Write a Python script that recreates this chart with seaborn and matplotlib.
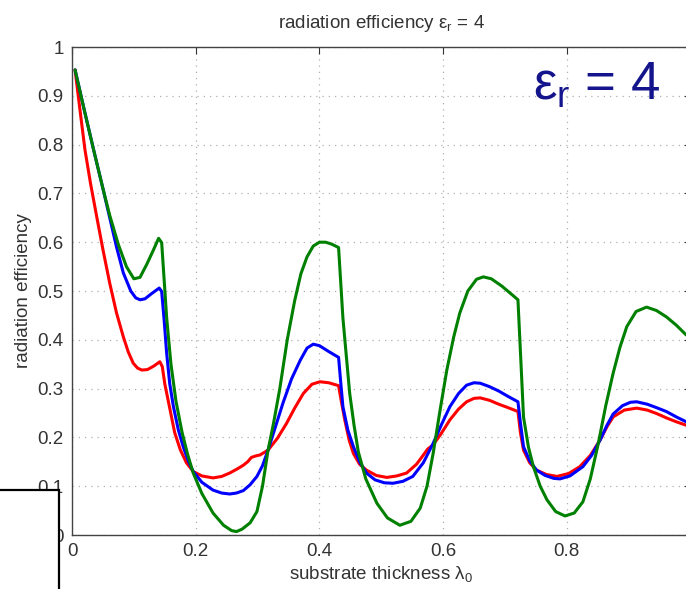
"""
Radiation efficiency vs substrate thickness (eps_r = 4), MATLAB-style look
"""

import numpy as np
import pandas as pd
import matplotlib
matplotlib.use("Agg")
import matplotlib.pyplot as plt
import seaborn as sns
from matplotlib.patches import Rectangle

# substrate thickness (in lambda_0) and efficiency
x_green = [0.005, 0.020, 0.035, 0.050, 0.061, 0.075, 0.088, 0.100, 0.110, 0.121, 0.132,
           0.140, 0.145, 0.153, 0.160, 0.168, 0.178, 0.187, 0.196, 0.210, 0.228, 0.245,
           0.258, 0.266, 0.275, 0.288, 0.299, 0.308, 0.317, 0.326, 0.336, 0.348, 0.360,
           0.370, 0.380, 0.390, 0.400, 0.410, 0.420, 0.431, 0.438, 0.444, 0.449, 0.456,
           0.463, 0.475, 0.493, 0.510, 0.530, 0.548, 0.563, 0.574, 0.584, 0.595, 0.606,
           0.617, 0.627, 0.640, 0.654, 0.665, 0.678, 0.695, 0.710, 0.721, 0.726, 0.730,
           0.738, 0.746, 0.757, 0.768, 0.782, 0.797, 0.812, 0.826, 0.838, 0.851, 0.863,
           0.875, 0.886, 0.897, 0.912, 0.929, 0.945, 0.961, 0.977, 0.993]
y_green = [0.953, 0.870, 0.789, 0.710, 0.655, 0.595, 0.550, 0.525, 0.528, 0.555, 0.585,
           0.608, 0.599, 0.446, 0.350, 0.275, 0.210, 0.165, 0.127, 0.085, 0.045, 0.020,
           0.009, 0.007, 0.012, 0.025, 0.048, 0.100, 0.174, 0.230, 0.300, 0.400, 0.480,
           0.535, 0.570, 0.592, 0.600, 0.600, 0.596, 0.589, 0.445, 0.360, 0.290, 0.225,
           0.170, 0.115, 0.065, 0.035, 0.020, 0.028, 0.055, 0.100, 0.168, 0.255, 0.338,
           0.405, 0.455, 0.500, 0.524, 0.529, 0.525, 0.510, 0.494, 0.482, 0.350, 0.242,
           0.180, 0.140, 0.100, 0.072, 0.048, 0.039, 0.045, 0.068, 0.115, 0.188, 0.265,
           0.332, 0.385, 0.427, 0.458, 0.467, 0.460, 0.447, 0.430, 0.410]

x_blue = [0.005, 0.020, 0.035, 0.050, 0.061, 0.072, 0.083, 0.095, 0.103, 0.110, 0.118,
          0.128, 0.141, 0.145, 0.149, 0.153, 0.158, 0.164, 0.172, 0.180, 0.188, 0.196,
          0.210, 0.228, 0.242, 0.255, 0.266, 0.277, 0.288, 0.299, 0.308, 0.317, 0.329,
          0.341, 0.355, 0.369, 0.380, 0.390, 0.400, 0.415, 0.431, 0.434, 0.438, 0.446,
          0.455, 0.465, 0.476, 0.490, 0.505, 0.519, 0.535, 0.551, 0.568, 0.584, 0.598,
          0.611, 0.625, 0.638, 0.650, 0.660, 0.675, 0.690, 0.705, 0.721, 0.725, 0.730,
          0.740, 0.751, 0.765, 0.779, 0.789, 0.805, 0.826, 0.840, 0.854, 0.865, 0.875,
          0.890, 0.903, 0.913, 0.930, 0.945, 0.961, 0.977, 0.993]
y_blue = [0.953, 0.870, 0.789, 0.710, 0.650, 0.590, 0.537, 0.500, 0.486, 0.482, 0.484,
          0.494, 0.506, 0.499, 0.440, 0.373, 0.310, 0.263, 0.215, 0.180, 0.152, 0.130,
          0.108, 0.092, 0.086, 0.084, 0.086, 0.091, 0.103, 0.120, 0.142, 0.174, 0.222,
          0.270, 0.320, 0.358, 0.383, 0.391, 0.388, 0.376, 0.364, 0.320, 0.263, 0.215,
          0.181, 0.150, 0.127, 0.113, 0.107, 0.106, 0.110, 0.120, 0.148, 0.188, 0.228,
          0.263, 0.290, 0.307, 0.312, 0.311, 0.304, 0.295, 0.284, 0.273, 0.230, 0.181,
          0.152, 0.133, 0.122, 0.116, 0.115, 0.121, 0.140, 0.163, 0.195, 0.225, 0.248,
          0.265, 0.272, 0.273, 0.268, 0.261, 0.253, 0.242, 0.232]

x_red = [0.005, 0.013, 0.021, 0.030, 0.040, 0.050, 0.061, 0.072, 0.083, 0.091, 0.099,
         0.106, 0.113, 0.122, 0.132, 0.142, 0.146, 0.150, 0.158, 0.166, 0.175, 0.185,
         0.196, 0.210, 0.228, 0.242, 0.255, 0.268, 0.277, 0.284, 0.290, 0.297, 0.304,
         0.317, 0.332, 0.347, 0.360, 0.374, 0.388, 0.401, 0.415, 0.431, 0.436, 0.441,
         0.448, 0.455, 0.465, 0.476, 0.492, 0.509, 0.525, 0.541, 0.557, 0.567, 0.575,
         0.584, 0.597, 0.611, 0.625, 0.638, 0.650, 0.660, 0.675, 0.690, 0.705, 0.721,
         0.725, 0.730, 0.740, 0.751, 0.767, 0.784, 0.803, 0.821, 0.838, 0.854, 0.865,
         0.875, 0.893, 0.913, 0.930, 0.945, 0.961, 0.977, 0.993]
y_red = [0.953, 0.870, 0.789, 0.720, 0.652, 0.585, 0.516, 0.455, 0.406, 0.375, 0.352,
         0.342, 0.338, 0.339, 0.346, 0.355, 0.345, 0.310, 0.260, 0.210, 0.175, 0.148,
         0.130, 0.121, 0.117, 0.120, 0.127, 0.136, 0.143, 0.150, 0.159, 0.162, 0.164,
         0.174, 0.198, 0.229, 0.260, 0.290, 0.309, 0.314, 0.312, 0.306, 0.270, 0.236,
         0.195, 0.167, 0.145, 0.133, 0.122, 0.118, 0.121, 0.127, 0.145, 0.162, 0.176,
         0.185, 0.208, 0.236, 0.258, 0.273, 0.280, 0.281, 0.276, 0.268, 0.261, 0.253,
         0.210, 0.174, 0.148, 0.133, 0.124, 0.120, 0.126, 0.140, 0.163, 0.195, 0.222,
         0.242, 0.256, 0.260, 0.256, 0.249, 0.240, 0.232, 0.225]

curve_order = ["red", "blue", "green"]
curve_colors = {"red": "#ff0000", "blue": "#0000ff", "green": "#008000"}

x_ticks = [0, 0.2, 0.4, 0.6, 0.8, 1.0]
x_tick_labels = ["0", "0.2", "0.4", "0.6", "0.8", ""]  # "1" falls outside the crop
y_ticks = [0, 0.1, 0.2, 0.3, 0.4, 0.5, 0.6, 0.7, 0.8, 0.9, 1.0]
y_tick_labels = ["0", "0.1", "0.2", "0.3", "0.4", "0.5", "0.6", "0.7", "0.8", "0.9", "1"]

df = pd.concat([
    pd.DataFrame({"x": x_red, "y": y_red, "curve": "red"}),
    pd.DataFrame({"x": x_blue, "y": y_blue, "curve": "blue"}),
    pd.DataFrame({"x": x_green, "y": y_green, "curve": "green"}),
], ignore_index=True)

sns.set_style("white")
plt.rcParams["font.family"] = ["Liberation Sans", "DejaVu Sans"]
plt.rcParams["mathtext.fontset"] = "custom"
plt.rcParams["mathtext.rm"] = "Liberation Sans"
plt.rcParams["mathtext.it"] = "Liberation Sans"

text_color = "#333333"

fig = plt.figure(figsize=(6.86, 5.89), dpi=100)
# axes runs past the right edge like in the screenshot
ax = fig.add_axes([72 / 686, 54 / 589, 618.5 / 686, 488 / 589])

sns.lineplot(data=df, x="x", y="y", hue="curve", hue_order=curve_order,
             palette=curve_colors, sort=False, estimator=None, legend=False,
             linewidth=2.2, ax=ax)

ax.set_xlim(0, 1)
ax.set_ylim(0, 1)
ax.set_xticks(x_ticks)
ax.set_xticklabels(x_tick_labels)
ax.set_yticks(y_ticks)
ax.set_yticklabels(y_tick_labels)
ax.tick_params(direction="in", length=5, width=0.8, top=True, right=True,
               labelsize=13.5, colors=text_color, pad=6)
ax.grid(True, linestyle=(0, (1, 4)), color="#b0b0b0", linewidth=0.9)
for sp in ax.spines.values():
    sp.set_color("#444444")
    sp.set_linewidth(1.0)

ax.set_xlabel(r"substrate thickness $\lambda_0$", fontsize=13.5, color=text_color, labelpad=3)
ax.set_ylabel("radiation efficiency", fontsize=13.5, color=text_color, labelpad=4)
ax.set_title(r"radiation efficiency $\varepsilon_r$ = 4", fontsize=13.5,
             color=text_color, pad=14)

fig.text(660 / 686, (589 - 100) / 589, r"$\varepsilon_r$ = 4", fontsize=38,
         color="#14148c", ha="right", va="baseline")

# white box with black frame over the lower-left corner
box = Rectangle((-0.02, -0.02), 59 / 686 + 0.02, (589 - 490) / 589 + 0.02,
                transform=fig.transFigure, facecolor="white", edgecolor="black",
                linewidth=1.6, zorder=10)
fig.patches.append(box)

fig.savefig("out.png", dpi=100)
